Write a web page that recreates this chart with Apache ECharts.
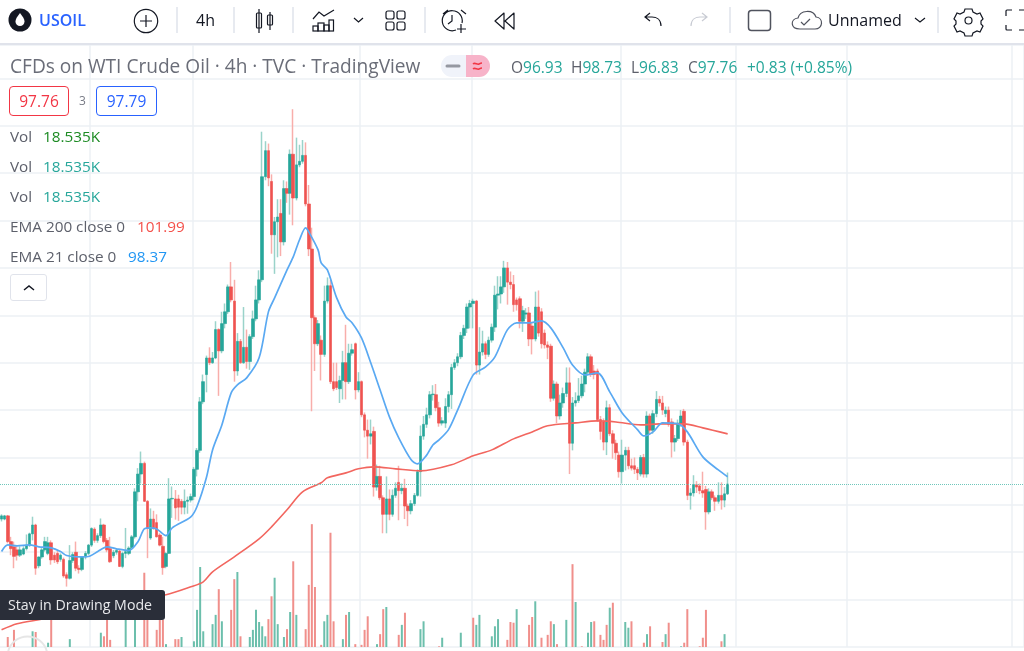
<!DOCTYPE html>
<html>
<head>
<meta charset="utf-8">
<title>USOIL</title>
<script src="https://cdn.jsdelivr.net/npm/echarts@6/dist/echarts.min.js"></script>
<style>
  html, body { margin: 0; padding: 0; background: #fff; }
  body { width: 1024px; height: 651px; overflow: hidden; position: relative; font-family: "Open Sans", sans-serif; }
  body > * { filter: blur(0.35px); }
  #chart { position: absolute; left: 0; top: 0; width: 1024px; height: 651px; }
  .t { position: absolute; white-space: nowrap; line-height: 20px; font-size: 15.3px; color: #5d606b; }
  .up { color: #26a69a; }
  .box { position: absolute; top: 86px; height: 28px; border-radius: 4px; border: 1px solid; text-align: center; line-height: 28px; font-size: 15.5px; background: #fff; box-sizing: content-box; }
  #bar { position: absolute; left: 0; top: 0; width: 1024px; height: 45px; background: #fff; border-bottom: 2px solid #e0e3eb; box-sizing: border-box; }
  #tip { position: absolute; left: 0; top: 590px; width: 165px; height: 30px; background: #2a2e39; border-radius: 0 3px 3px 0; color: #e8e9ec; font-size: 14.2px; line-height: 30px; padding-left: 8px; box-sizing: border-box; }
  #fold { position: absolute; left: 10px; top: 274px; width: 35px; height: 25px; border: 1px solid #e0e3eb; border-radius: 3px; background: #fff; }
</style>
</head>
<body>
<div id="chart"></div>

<!-- toolbar -->
<div id="bar">
  <svg width="1024" height="44" style="position:absolute;left:0;top:0" fill="none" stroke="#131722" stroke-width="1.2">
    <circle cx="20" cy="20" r="11.5" fill="#131722" stroke="none"/>
    <path d="M20 13 C17 17 15.5 19 15.5 21.5 A4.5 4.5 0 0 0 24.5 21.5 C24.5 19 23 17 20 13Z" fill="#fff" stroke="none"/>
    <circle cx="146" cy="21" r="11.7"/>
    <path d="M146 15v12M140 21h12"/>
    <path d="M177 7v26M234 7v26M293 7v26M425 7v26M730 7v26M938 7v26" stroke="#e0e3eb" stroke-width="1.5"/>
    <path d="M259 9v24M270 12v18"/>
    <rect x="256.5" y="13" width="5" height="15" rx="1"/>
    <rect x="267.5" y="15" width="5" height="10" rx="1"/>
    <path d="M313 19l6-7 5 4 10-6"/>
    <rect x="313" y="26" width="5" height="5"/><rect x="318" y="23" width="6" height="8"/><rect x="324" y="25" width="5" height="6"/><rect x="329" y="20" width="4.500" height="11"/>
    <path d="M354 18l4.500 4 4.500-4M915 18l5 4 5-4"/>
    <rect x="386" y="11" width="8" height="8" rx="2"/><rect x="397" y="11" width="8" height="8" rx="2"/><rect x="386" y="22" width="8" height="8" rx="2"/><rect x="397" y="22" width="8" height="8" rx="2"/>
    <path d="M456 30a10 10 0 1 1 6-7M452 15v6l-4 3M443 14l5-4M466 14l-5-4M461 24v9M457 29h9"/>
    <path d="M504 13l-9 8 9 8zM514 13l-9 8 9 8z" stroke-linejoin="round"/>
    <path d="M661 26c0-7-5-9-9-9h-7M650 13l-5 4 5 4"/>
    <path d="M691 26c0-7 5-9 9-9h7M702 13l5 4-5 4" stroke="#c8cbd3"/>
    <rect x="748.500" y="10.500" width="22" height="20" rx="3" stroke="#50535e" stroke-width="1.500"/>
    <path d="M800 29c-10 0-10-10-2-11 2-8 15-9 18-1 8 1 7 12-1 12zM801 22l3 3 6-6" stroke="#50535e"/>
    <circle cx="968.500" cy="20.500" r="3.500"/>
    <path d="M965 9h7l1 3 4 2 3-1 3 6-2 2v3l2 2-3 6-3-1-4 2-1 3h-7l-1-3-4-2-3 1-3-6 2-2v-3l-2-2 3-6 3 1 4-2z" stroke-width="1.200"/>
    <path d="M1006 16v-5a1 1 0 0 1 1-1h5M1019 10h5M1006 25v4a1 1 0 0 0 1 1h5M1019 30h5"/>
  </svg>
  <div class="t" style="left:39px;top:10px;font-size:16px;font-weight:600;color:#2962ff">USOIL</div>
  <div class="t" style="left:196px;top:10px;font-size:16px;color:#131722">4h</div>
  <div class="t" style="left:828px;top:10px;font-size:16px;color:#131722">Unnamed</div>
</div>

<!-- legend -->
<div class="t" style="left:10px;top:55px;font-size:19.100px;line-height:22px;color:#6a6d78">CFDs on WTI Crude Oil · 4h · TVC · TradingView</div>
<svg width="52" height="24" style="position:absolute;left:440px;top:54px">
  <path d="M12 1H26V23H12A11 11 0 0 1 12 1Z" fill="#f0f3fa"/>
  <path d="M26 1H39A11 11 0 0 1 39 23H26Z" fill="#f7b3c9"/>
  <path d="M7 12H19" stroke="#9598a1" stroke-width="3" stroke-linecap="round"/>
  <path d="M33 10c2-2 4 1 6 0s2-1 3-1M33 15c2-2 4 1 6 0s2-1 3-1" stroke="#f23645" stroke-width="1.500" fill="none"/>
</svg>
<div class="t" style="left:511px;top:57px;font-size:15.5px">O<span class="up">96.93</span></div>
<div class="t" style="left:571px;top:57px;font-size:15.5px">H<span class="up">98.73</span></div>
<div class="t" style="left:631px;top:57px;font-size:15.5px">L<span class="up">96.83</span></div>
<div class="t" style="left:688px;top:57px;font-size:15.5px">C<span class="up">97.76</span></div>
<div class="t up" style="left:747px;top:57px;font-size:15.5px">+0.83 (+0.85%)</div>

<div class="box" style="left:9px;width:58px;border-color:#f23645;color:#f23645">97.76</div>
<div class="t" style="left:79px;top:91px;font-size:12px;color:#787b86">3</div>
<div class="box" style="left:96px;width:59px;border-color:#2962ff;color:#2962ff">97.79</div>

<div class="t" style="left:10px;top:126px">Vol</div><div class="t" style="left:43px;top:126px;color:#1b8a22">18.535K</div>
<div class="t" style="left:10px;top:156px">Vol</div><div class="t up" style="left:43px;top:156px">18.535K</div>
<div class="t" style="left:10px;top:186px">Vol</div><div class="t up" style="left:43px;top:186px">18.535K</div>
<div class="t" style="left:10px;top:216px">EMA 200 close 0</div><div class="t" style="left:137px;top:216px;color:#f4504a">101.99</div>
<div class="t" style="left:10px;top:246px">EMA 21 close 0</div><div class="t" style="left:128px;top:246px;color:#2196f3">98.37</div>
<div id="fold"><svg width="35" height="25"><path d="M13 15l5-4 5 4" fill="none" stroke="#131722" stroke-width="1.500"/></svg></div>

<div id="tip">Stay in Drawing Mode</div>
<svg width="60" height="20" style="position:absolute;left:0;top:632px"><path d="M8 20a20 20 0 0 1 39 0" fill="none" stroke="#e6e6e6" stroke-width="2"/></svg>

<script>
// candles, oldest first, price in USD
const opens = [
  94.8,94.8,95.07,92.9,92.45,92.2,91.75,91.85,92.3,92.6,
  93.55,94.3,90.85,91.6,92.2,91.9,92.8,91.75,91.9,91.4,
  91.4,90.1,89.8,91.3,92,90.65,90.55,91.6,91.9,92.6,
  93.95,93,93.4,94.3,93,92.3,91.7,92,92.1,90.8,
  91.9,91.9,92.4,93.3,97.1,98.6,99.5,96.3,93.2,94.8,
  94.5,93.45,92.5,90.8,91.9,96.5,96.5,96.5,96.3,95.8,
  96.3,96.4,96.7,99,100.6,104.7,107,108.4,108,108.4,
  110.8,109,111.3,112.3,114.4,113.2,107.3,109.8,108,109.3,
  108.1,110.2,111.7,113.3,115,123.7,125.9,123.3,118.8,119.9,
  120.6,118.2,122.7,122.3,125.6,121.9,124.7,125,125.5,121.4,
  117.6,111.8,109.6,109.9,108.7,113.2,114.5,106.4,106.4,105.8,
  106.5,108,106.4,108.8,109.6,105.7,106.4,103.6,102.3,101.8,
  102.2,97.5,98.4,96.6,95.2,96.5,95.2,96.8,97.9,97.2,
  97.4,95.9,95.5,96.1,96.8,98.8,101.8,102.8,103.6,105.3,
  105.3,104.2,102.9,102.9,104.3,105.3,107.6,108,108.5,110.3,
  110.9,112.7,113,113.2,107.8,108.9,109.6,108.7,109.9,111,
  113.7,113.8,114.4,116,114.8,114.6,113.3,113.4,111.5,112.1,
  112.2,111.1,110,112.7,112.3,110.5,109.5,109.4,105,106.2,
  103.5,104.6,105.4,106.3,101.2,104.6,104.8,105.2,106.2,107.2,
  108.5,107.3,107.3,103.2,103,101.3,104.2,102,101.2,100.2,
  98.8,100.2,100.6,99.3,99.3,99,98.6,100,98.6,103.5,
  102.3,103.7,104.9,104.6,103.7,104,103,101.3,101.6,102.9,
  103.9,101.3,96.8,97,97.7,97.6,97.2,97.3,95.4,97.1,
  96.6,96.3,96.8,96.4,96.93
]
const closes = [
  95.07,95.07,92.9,92.3,91.65,91.75,92.2,92.3,92.6,93.55,
  94.3,90.65,91.6,92.2,92.9,92.8,91.35,91.35,91.2,91.75,
  90,89.8,91.3,91.8,90.65,90.55,91.6,91.9,92.6,94,
  93,93.4,94.3,92.9,92.2,91.2,92,92.15,90.8,91.9,
  92.05,92.35,93.3,97.1,98.6,99.5,96.3,94,94.8,94,
  93.3,92.6,90.7,91.9,96.5,96.55,95.75,95.8,95.8,96.3,
  96.4,96.7,99,100.6,104.7,106.4,108.4,108,108.4,110.8,
  109,111.3,112.3,114.4,113.3,107.3,109.8,108,109.3,108.1,
  110.2,111.7,113.3,115,123.7,125.9,123.6,118.8,119.9,120.3,
  118.2,122.7,122.3,125.6,121.9,124.7,125,125.5,121.4,117.6,
  111.8,109.6,111.3,108.7,113.2,114.5,106.4,105.8,105.9,106.5,
  108,106.4,108.8,109.1,105.7,106.4,103.6,102.3,101.8,102,
  97.5,98.4,96.6,95.2,96.5,95.2,96.8,97.4,97.2,97.4,
  95.9,95.5,96.1,96.8,98.8,101.8,102.8,103.6,105.3,105.35,
  104.2,102.9,103.1,104.3,105.3,107.6,108,108.5,110.3,110.9,
  112.7,113,113.2,107.8,108.9,109.6,108.7,109.9,111,113.7,
  113.8,114.4,116,114.8,114.6,112.9,112.9,111.5,112.4,112.2,
  110,110,112.7,110.5,109.6,109.5,109.3,105,106.2,103.5,
  104.6,105.4,106.3,101.2,104.6,104.8,105.2,106.2,107.2,108.5,
  107,107,103.2,102.2,101.3,104.2,102,101.2,100.4,98.8,
  100.2,100.6,99.3,99.1,99,98.7,100,98.6,103.5,102.3,
  103.7,104.9,104.6,104,104,102.8,101.3,101.6,102.9,103.5,
  101.3,96.8,97,97.7,97.5,97.2,97,95.4,97.1,96.6,
  96.3,96.8,96.4,96.93,97.76
]
const highs = [
  95.2,95.15,95.15,93.3,92.9,92.5,92.5,92.5,93.5,93.65,
  95,94.4,91.65,92.35,93.3,93.3,93,92,92.2,91.9,
  91.55,90.3,92.6,92,92.9,90.9,91.65,92.1,92.7,94.1,
  94.1,93.6,94.85,94.4,93.2,93.3,92.2,92.3,92.25,92.05,
  94.05,92.5,93.45,97.4,99.1,100.5,99.65,96.4,95.7,95.5,
  95.2,93.6,93.3,92,98.25,97.55,97.25,96.85,96.5,97.3,
  96.7,96.95,99.2,100.8,105.1,107,108.6,109.3,108.9,111.5,
  110.9,112.3,113,114.6,116.5,115,110.5,110,112.7,110.8,
  110.4,112.4,114.5,115.8,127.5,126.7,126.5,123.9,120.3,121.8,
  121.8,123.4,123.3,126,129.4,127,126.4,126.8,126.6,123,
  119.4,112,111.6,110.3,114.5,115.2,115,108,108,106.9,
  109,111.2,109.6,109.6,109.7,107.2,106.5,103.8,103.2,103.2,
  102.6,99.4,99.3,96.8,98.4,97.3,97.3,97.9,99.3,97.8,
  98.2,96.1,96.4,97,99,102.7,103.5,104.2,105.6,106.1,
  106.2,104.7,103.4,105,105.6,107.9,108.3,108.8,110.6,111.2,
  113,113.3,113.4,113.3,111,110.7,109.8,110.2,111.3,114.5,
  115.3,115.3,116.6,116.5,115.7,115.4,113.5,113.6,112.8,112.6,
  112.7,111.4,114,114.1,112.6,110.8,109.8,109.6,106.5,106.4,
  105.3,105.9,107.6,107.6,105.1,105.5,106.7,106.9,107.5,108.8,
  108.7,107.8,107.5,103.5,103.3,104.8,104.5,102.3,101.5,100.5,
  101.5,100.9,100.9,99.9,100,99.2,100.2,100.3,103.9,103.7,
  104,105.6,105.2,105.2,104.3,104.3,103.3,101.9,103.2,104,
  104.1,101.5,97.4,98.5,98,97.8,98.8,97.6,97.4,97.3,
  96.8,97.9,97.9,97.5,98.73
]
const lows = [
  94.6,94.7,92.75,91.75,90.65,91.3,91.6,91.75,92.15,92.45,
  93,90.1,90.65,91.45,92.05,91.75,90.95,91.1,91,91.2,
  89.85,89.1,89.7,91.1,90.4,90.2,90.4,91.4,91.75,92.45,
  92.8,92.8,93.2,92.75,92,91.1,91.5,91.8,90.75,90.65,
  91.5,91.75,92.3,93.15,96.3,97.8,96.25,91.5,93.05,93.9,
  93.25,92.5,90.1,90.65,91.9,94.9,94.75,94.65,95.2,95.2,
  95.25,96.2,96.4,98.4,100.4,104.5,105.5,107.8,107.9,108.3,
  105.2,108.8,110.9,112.1,113.1,106.4,106.9,107.9,107.9,107.5,
  107.4,110,111.5,113,114.8,123.4,122.9,117.2,115.5,116.9,
  117,117.9,121.5,120.5,119.6,121.7,124.5,124.8,121.2,117,
  103.9,107.3,109.4,106.5,108.5,113,106.2,105.6,105.7,104.6,
  104.9,104.9,106.2,108.6,104.9,105.5,103.4,101.7,99.9,101.1,
  96.7,97.2,96.4,93.6,93.6,94.7,95,96.6,94.7,96.9,
  94.8,94.2,95.2,95.9,96.7,96.7,101.5,102.5,103.3,104.8,
  103.9,102.6,102.7,102.5,103.8,104.1,107.4,107.7,108.3,110,
  110.5,110.9,110.9,107,107,108.6,108.3,108.5,109.7,110.6,
  112.5,113,113.9,112.9,114.2,112.3,112.4,110.9,110.6,111.7,
  109.4,108.7,109.8,110.2,109.2,109.2,108.3,104.7,104.8,102.9,
  103.2,104.2,105.1,98.6,100.6,104.3,104.6,105,105.5,106.9,
  106.8,106.6,103,101.5,100.6,100.2,101.8,99.9,99.8,98.3,
  97.8,98.9,99,98.9,98.6,98.1,98.4,98.3,98.3,101.9,
  102,103.4,104.3,103.6,103.4,102.6,100,100.5,101.4,102.6,
  101,96.4,95.6,96.7,97,96.9,96.6,93.9,95.2,96.4,
  95.5,96.1,95.6,95.8,96.83
]

// volume in thousands, [candle index, value], only the bars that can be seen
const volumeUp = [
  [10,22],[15,6],[22,11],[32,20],[40,38],[43,38],[53,4],[58,14],[62,8],[63,52],
  [64,112],[65,22],[68,32],[69,45],[71,36],[76,105],[80,14],[81,24],[82,52],[83,35],
  [84,29],[85,15],[88,97],[89,32],[91,14],[93,49],[95,45],[104,36],[105,45],[110,11],
  [112,49],[121,4],[124,56],[129,31],[135,25],[136,36],[142,13],[148,20],[153,31],[154,45],
  [158,15],[159,29],[160,39],[166,53],[172,64],[178,32],[182,38],[185,63],[189,20],[190,35],
  [196,55],[201,35],[202,27],[208,18],[214,18],[219,1],[233,18]
]
const volumeDown = [
  [2,14],[4,24],[11,21],[16,38],[33,15],[34,42],[35,10],[46,104],[47,38],[50,24],
  [51,38],[52,38],[56,11],[57,11],[70,81],[74,52],[75,95],[77,15],[86,39],[87,71],
  [92,25],[94,120],[98,25],[99,87],[100,172],[101,84],[103,3],[106,160],[107,36],[111,45],
  [114,4],[116,3],[117,24],[118,43],[122,18],[123,53],[128,17],[130,48],[141,1],[152,41],
  [163,10],[164,35],[165,34],[170,31],[171,42],[174,13],[176,17],[177,36],[179,4],[184,116],
  [187,1],[191,36],[193,17],[194,10],[195,31],[197,62],[203,36],[207,6],[209,29],[213,7],
  [215,34],[220,6],[221,53],[225,1],[226,13],[227,52],[232,8]
]

// moving averages, [candle index, value], every few candles
const ema21 = [
  [0,92.06],[2,92.62],[5,92.54],[9,92.62],[12,92.46],[16,92.37],[19,92.06],[21,91.72],[25,91.61],[28,91.64],
  [31,92.06],[34,92.46],[37,92.29],[41,92.14],[44,92.9],[46,93.97],[48,94.06],[50,93.97],[53,93.41],[55,94.06],
  [61,94.99],[63,95.86],[66,98.28],[68,100.64],[71,102.75],[74,105.45],[76,106.13],[79,106.72],[83,108.41],[86,112.29],
  [88,113.47],[92,115.83],[94,116.93],[96,118.36],[98,119.38],[99,119.04],[102,117.52],[103,116.42],[105,115.83],[108,113.47],
  [111,111.86],[113,111.36],[116,110.09],[119,107.98],[122,105.7],[125,103.43],[128,101.65],[132,99.8],[134,99.46],[137,100.2],
  [139,101.06],[141,101.49],[144,102.33],[147,104.02],[152,106.97],[156,107.65],[159,108.49],[163,110.77],[166,111.36],[170,111.36],
  [174,111.53],[177,110.94],[181,109.25],[184,107.81],[188,106.97],[192,107.14],[196,105.54],[200,103.76],[205,102.33],[207,101.82],
  [210,102.16],[213,102.92],[218,102.84],[221,102.16],[226,100.05],[231,98.95],[234,98.37]
]
const ema200 = [
  [0,85.45],[5,85.96],[12,86.3],[32,87.31],[53,88.41],[61,89.08],[65,89.5],[68,90.35],[75,91.61],[83,93.13],
  [87,94.14],[92,95.58],[97,97.1],[103,97.86],[105,98.28],[111,98.7],[115,99.04],[120,99.21],[127,99.04],[135,98.87],
  [145,99.38],[152,100.14],[158,100.64],[165,101.57],[171,102.16],[176,102.67],[185,102.92],[192,103.09],[198,103],[206,102.75],
  [212,102.84],[220,102.84],[226,102.5],[234,101.99]
]

const lastClose = 97.76
// candle slots on screen (the chart runs on past the last candle) and where the time grid falls
const slotCount = 330
const timeLines = [29, 62, 116, 152, 200, 237, 273, 326]

const slots = Array.from({ length: slotCount }, (_, i) => i)
const teal = '#26a69a'
const red = '#ef5350'

const chart = echarts.init(document.getElementById('chart'))

chart.setOption({
  animation: false,
  grid: { left: 0, right: 0, top: 45, height: 602 },
  xAxis: {
    type: 'category',
    data: slots,
    axisLine: { show: false },
    axisTick: { show: false },
    axisLabel: { show: false },
    splitLine: {
      show: true,
      interval: (i) => timeLines.includes(i),
      lineStyle: { color: '#ecf1f5', width: 1.5 }
    }
  },
  yAxis: [
    {
      type: 'value',
      min: 84,
      max: 134.82,
      interval: 4,
      axisLine: { show: false },
      axisTick: { show: false },
      axisLabel: { show: false },
      splitLine: { show: true, lineStyle: { color: '#ecf1f5', width: 1.5 } }
    },
    { type: 'value', min: 0, max: 843, show: false, splitLine: { show: false } }
  ],
  series: [
    {
      type: 'bar',
      yAxisIndex: 1,
      data: volumeUp,
      barWidth: 2,
      barGap: '-100%',
      itemStyle: { color: '#6cbfac' },
      z: 1
    },
    {
      type: 'bar',
      yAxisIndex: 1,
      data: volumeDown,
      barWidth: 2,
      barGap: '-100%',
      itemStyle: { color: '#f08f8b' },
      z: 1
    },
    {
      // pale layer: this is what shows the wicks
      type: 'candlestick',
      data: opens.map((o, i) => [o, closes[i], lows[i], highs[i]]),
      barWidth: 1,
      itemStyle: { color: '#9ad3ca', color0: '#f8aeab', borderColor: '#9ad3ca', borderColor0: '#f8aeab', borderWidth: 1.5 },
      markLine: {
        silent: true,
        symbol: 'none',
        label: { show: false },
        lineStyle: { color: '#6fc7bb', type: 'dotted', width: 1 },
        data: [{ yAxis: lastClose }]
      },
      z: 2
    },
    {
      // solid bodies on top
      type: 'candlestick',
      data: opens.map((o, i) => [o, closes[i], Math.min(o, closes[i]), Math.max(o, closes[i])]),
      barWidth: 3,
      itemStyle: { color: teal, color0: red, borderColor: teal, borderColor0: red, borderWidth: 0.6 },
      z: 3
    },
    {
      type: 'line',
      data: ema200,
      showSymbol: false,
      smooth: 0.3,
      lineStyle: { color: '#f2665f', width: 1.6 },
      z: 4
    },
    {
      type: 'line',
      data: ema21,
      showSymbol: false,
      smooth: 0.3,
      lineStyle: { color: '#5aa9f2', width: 1.7 },
      z: 5
    }
  ]
})
</script>
</body>
</html>
